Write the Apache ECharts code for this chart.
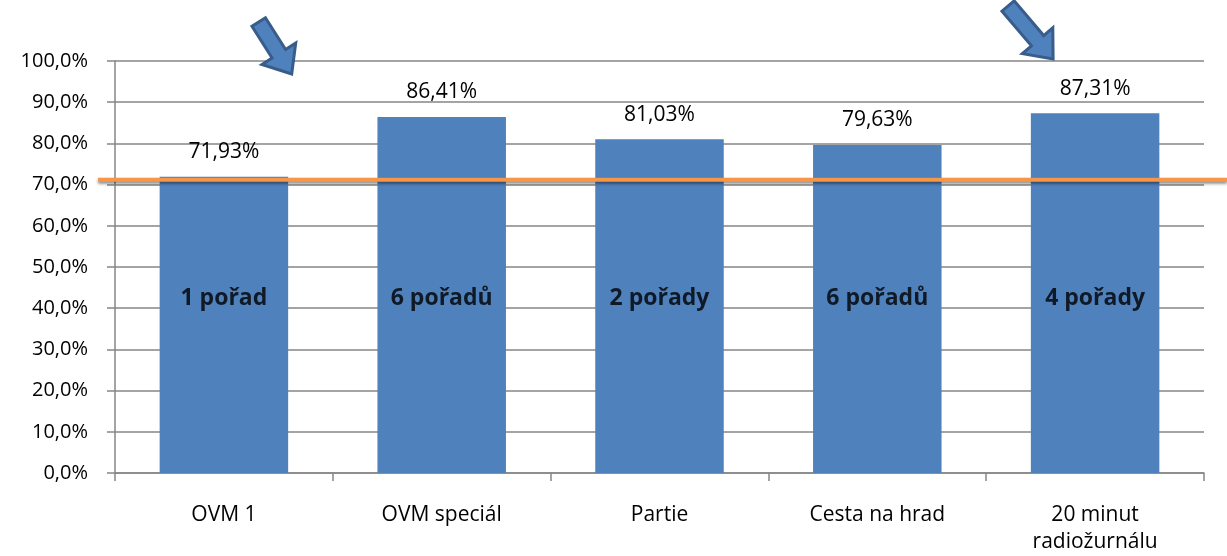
<!DOCTYPE html>
<html>
<head>
<meta charset="utf-8">
<script src="https://cdn.jsdelivr.net/npm/echarts@6/dist/echarts.min.js"></script>
<style>
  html, body { margin: 0; padding: 0; background: #fff; }
  #chart { width: 1227px; height: 556px; }
</style>
</head>
<body>
<div id="chart"></div>
<script>
// Programme series and their share values (%)
const categories = ['OVM 1', 'OVM speciál', 'Partie', 'Cesta na hrad', '20 minut\nradiožurnálu'];
const shares = [71.93, 86.41, 81.03, 79.63, 87.31];
const episodeLabels = ['1 pořad', '6 pořadů', '2 pořady', '6 pořadů', '4 pořady'];
// Reference level drawn as the orange line
const referenceLevel = 71.2;
// Height at which the episode counts sit inside the bars
const episodeLabelLevel = 42.3;

const yTicks = { min: 0, max: 100, interval: 10 };
const fontFamily = '"Open Sans", "Noto Sans", sans-serif';

const chart = echarts.init(document.getElementById('chart'));

const fmtPct = v => v.toFixed(2).replace('.', ',') + '%';

chart.setOption({
  animation: false,
  grid: { left: 115, right: 23, top: 61, bottom: 78, containLabel: false },
  xAxis: {
    type: 'category',
    data: categories,
    axisLine: { lineStyle: { color: '#868686', width: 1.5 } },
    axisTick: { show: true, length: 8, lineStyle: { color: '#868686', width: 1.5 } },
    axisLabel: { color: '#000', fontSize: 21, fontFamily, margin: 29, lineHeight: 27 }
  },
  yAxis: {
    type: 'value',
    min: yTicks.min, max: yTicks.max, interval: yTicks.interval,
    axisLine: { show: true, lineStyle: { color: '#868686', width: 1.5 } },
    axisTick: { show: true, length: 8, lineStyle: { color: '#868686', width: 1.5 } },
    splitLine: { lineStyle: { color: '#868686', width: 1.5 } },
    axisLabel: {
      color: '#000', fontSize: 20, fontFamily, margin: 27,
      formatter: v => v.toFixed(1).replace('.', ',') + '%'
    }
  },
  series: [
    {
      type: 'bar',
      data: shares,
      barWidth: '59%',
      itemStyle: { color: '#4f81bd' },
      label: {
        show: true, position: 'top', distance: 14,
        color: '#000', fontSize: 21, fontFamily,
        formatter: p => fmtPct(p.value)
      },
      z: 2
    },
    {
      type: 'scatter',
      data: episodeLabels.map(() => episodeLabelLevel),
      symbolSize: 0,
      silent: true,
      label: {
        show: true, position: 'inside',
        color: '#000', fontSize: 23, fontWeight: 'bold', fontFamily,
        formatter: p => episodeLabels[p.dataIndex]
      },
      z: 5
    }
  ]
});

// Orange reference line extending beyond the plot, plus the two pointer arrows
function drawOverlays() {
  const yPix = chart.convertToPixel({ yAxisIndex: 0 }, referenceLevel);
  const arrow = (tailX, tailY, tipX, tipY) => {
    const dx = tipX - tailX, dy = tipY - tailY;
    const len = Math.hypot(dx, dy);
    const ux = dx / len, uy = dy / len;
    const nx = -uy, ny = ux;
    const shaftW = 8, headW = 20, headL = 24;
    const bx = tipX - ux * headL, by = tipY - uy * headL;
    const pts = [
      [tailX + nx * shaftW, tailY + ny * shaftW],
      [bx + nx * shaftW, by + ny * shaftW],
      [bx + nx * headW, by + ny * headW],
      [tipX, tipY],
      [bx - nx * headW, by - ny * headW],
      [bx - nx * shaftW, by - ny * shaftW],
      [tailX - nx * shaftW, tailY - ny * shaftW]
    ];
    return {
      type: 'polygon',
      shape: { points: pts },
      style: { fill: '#4f81bd', stroke: '#385d8a', lineWidth: 3, lineJoin: 'miter' },
      z: 20
    };
  };
  const x2 = chart.convertToPixel({ xAxisIndex: 0 }, categories[1]);
  const x5 = chart.convertToPixel({ xAxisIndex: 0 }, categories[4]);
  chart.setOption({
    graphic: [
      {
        type: 'line',
        shape: { x1: 98, y1: yPix, x2: 1227, y2: yPix },
        style: { stroke: '#f79646', lineWidth: 4, shadowColor: 'rgba(0,0,0,0.45)', shadowBlur: 3, shadowOffsetY: 2 },
        z: 15
      },
      arrow(x2 - 183, 22, x2 - 150, 74),
      arrow(x5 - 87, 6, x5 - 42, 59)
    ]
  });
}
drawOverlays();
</script>
</body>
</html>
